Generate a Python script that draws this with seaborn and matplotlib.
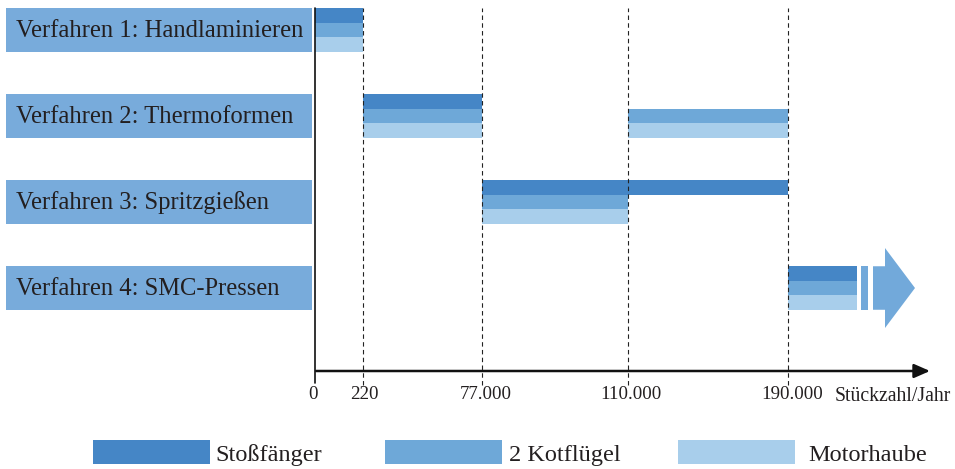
import numpy as np
import pandas as pd
import matplotlib
matplotlib.use("Agg")
import matplotlib.pyplot as plt
import seaborn as sns
from matplotlib.patches import Rectangle, Polygon, Patch
from matplotlib.transforms import blended_transform_factory, offset_copy

# ---- data -------------------------------------------------------------
processes = [
    "Verfahren 1: Handlaminieren",
    "Verfahren 2: Thermoformen",
    "Verfahren 3: Spritzgießen",
    "Verfahren 4: SMC-Pressen",
]
parts = ["Stoßfänger", "2 Kotflügel", "Motorhaube"]

# volume thresholds (pieces per year) and their tick labels
thresholds = [0, 220, 77000, 110000, 190000]
tick_labels = ["0", "220", "77.000", "110.000", "190.000"]

# (process index, start volume, end volume); None = open-ended
stossfaenger_ranges = [(0, 0, 220), (1, 220, 77000), (2, 77000, 190000), (3, 190000, None)]
kotfluegel_ranges = [(0, 0, 220), (1, 220, 77000), (1, 110000, 190000),
                     (2, 77000, 110000), (3, 190000, None)]
motorhaube_ranges = [(0, 0, 220), (1, 220, 77000), (1, 110000, 190000),
                     (2, 77000, 110000), (3, 190000, None)]

# ---- style ------------------------------------------------------------
part_colors = ["#4586C6", "#6EA8D8", "#A8CEEB"]
box_color = "#78ABDB"
text_color = "#231F20"

sns.set_theme(style="white")
plt.rcParams["font.family"] = ["Liberation Serif", "DejaVu Serif"]

# piecewise axis: spacing of the thresholds along the axis
axis_pos = [0, 48, 167, 313, 473]
tail_slope = 0.002          # spacing per piece beyond the last threshold
head_slope = axis_pos[1] / thresholds[1]


def forward(v):
    v = np.asarray(v, dtype=float)
    mid = np.interp(v, thresholds, axis_pos)
    hi = axis_pos[-1] + (v - thresholds[-1]) * tail_slope
    lo = v * head_slope
    return np.where(v > thresholds[-1], hi, np.where(v < 0, lo, mid))


def inverse(p):
    p = np.asarray(p, dtype=float)
    mid = np.interp(p, axis_pos, thresholds)
    hi = thresholds[-1] + (p - axis_pos[-1]) / tail_slope
    lo = p / head_slope
    return np.where(p > axis_pos[-1], hi, np.where(p < 0, lo, mid))


x_max = inverse(615)
open_stub = 34500            # drawn length of an open-ended range

frames = []
for part, ranges in zip(parts, [stossfaenger_ranges, kotfluegel_ranges, motorhaube_ranges]):
    for proc, start, end in ranges:
        frames.append({"part": part, "process": proc, "start": start,
                       "end": start + open_stub if end is None else end})
df = pd.DataFrame(frames)

# ---- figure -----------------------------------------------------------
fig = plt.figure(figsize=(9.55, 4.69), dpi=100)
ax = fig.add_axes([315 / 955, 98 / 469, 615 / 955, 363 / 469])
ax.set_xscale("function", functions=(forward, inverse))
ax.set_xlim(0, x_max)
ax.set_ylim(3.965, -0.256)

stripe_h = 0.169
offsets = [-stripe_h, 0.0, stripe_h]
for part, color, off in zip(parts, part_colors, offsets):
    sub = df[df["part"] == part]
    ax.barh(sub["process"] + off, sub["end"] - sub["start"], left=sub["start"],
            height=stripe_h, color=color, edgecolor="none", zorder=2)

# arrow after the open-ended SMC range
row = 3
s0 = thresholds[-1] + open_stub
sep = Rectangle((s0 + 2000, row - 0.253), 3500, 0.506, color="#72A9DA", lw=0, zorder=2)
ax.add_patch(sep)
arrow = Polygon([(s0 + 8000, row - 0.253), (s0 + 14000, row - 0.253),
                 (s0 + 14000, row - 0.465), (s0 + 29000, row),
                 (s0 + 14000, row + 0.465), (s0 + 14000, row + 0.253),
                 (s0 + 8000, row + 0.253)], closed=True, color="#72A9DA", lw=0, zorder=2)
ax.add_patch(arrow)

# dashed threshold lines
for t in thresholds[1:]:
    ax.axvline(t, ymin=-0.039, ymax=1, color="#222222", lw=0.8,
               linestyle=(0, (4, 3)), clip_on=False, zorder=3)

# axes: vertical line and arrowed horizontal line
for s in ax.spines.values():
    s.set_visible(False)
ax.axvline(0, ymin=-0.033, ymax=1, color="#111111", lw=1.2, clip_on=False, zorder=4)
ax.annotate("", xy=(1.0, 0.0), xytext=(0.002, 0.0), xycoords="axes fraction",
            arrowprops=dict(arrowstyle="-|>,head_length=0.8,head_width=0.35",
                            color="#111111", lw=1.8, shrinkA=0, shrinkB=0),
            annotation_clip=False, zorder=4)

ax.set_xticks(thresholds)
ax.set_xticklabels(tick_labels)
ax.tick_params(axis="x", length=0, pad=11, labelsize=13.6, colors=text_color)
for lab, dx in zip(ax.get_xticklabels(), [-2, 1, 4, 3, 4]):
    lab.set_transform(offset_copy(lab.get_transform(), fig=fig, x=dx, y=0, units="dots"))
ax.set_yticks([])
ax.grid(False)
ax.text(0.8455, -0.082, "Stückzahl/Jahr", transform=ax.transAxes, ha="left",
        va="baseline", fontsize=14.2, color=text_color)

# process label boxes left of the axis
bt = blended_transform_factory(ax.transAxes, ax.transData)
for i, name in enumerate(processes):
    ax.add_patch(Rectangle((-0.5024, i - 0.256), 0.4976, 0.512, transform=bt,
                           color=box_color, lw=0, clip_on=False))
    ax.text(-0.4862, i + 0.01, name, transform=bt, ha="left", va="center",
            fontsize=17.7, color=text_color)

# legend entries at fixed horizontal slots
for part, color, x0, pad in zip(parts, part_colors, [93, 385, 678], [0.25, 0.29, 0.58]):
    fig.legend(handles=[Patch(facecolor=color, edgecolor="none", label=part)],
               loc="center left", bbox_to_anchor=(x0 / 955, 0.0341),
               frameon=False, fontsize=17.5, handlelength=4.8, handleheight=1.12,
               handletextpad=pad, labelcolor=text_color,
               borderpad=0, borderaxespad=0)

fig.savefig("out.png", dpi=100)
